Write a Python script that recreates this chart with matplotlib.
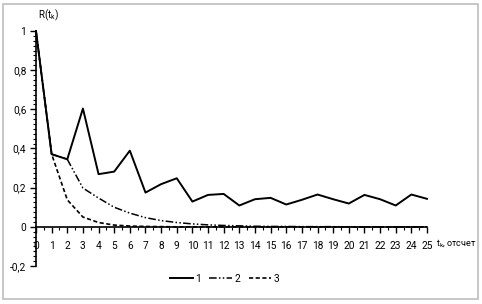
import matplotlib
matplotlib.use("Agg")
import matplotlib.pyplot as plt
from matplotlib.ticker import MultipleLocator, FuncFormatter
from matplotlib.patches import Rectangle

t = list(range(26))
r1 = [1.0, 0.371, 0.345, 0.604, 0.269, 0.282, 0.389, 0.175, 0.218, 0.248,
      0.129, 0.163, 0.168, 0.109, 0.141, 0.148, 0.114, 0.138, 0.165, 0.141,
      0.119, 0.163, 0.141, 0.109, 0.165, 0.143]
r2 = [1.0, 0.371, 0.345, 0.198, 0.147, 0.100, 0.070, 0.047, 0.032, 0.022,
      0.015, 0.010, 0.007, 0.005, 0.003, 0.002, 0.002, 0.001, 0.001, 0.001,
      0.0, 0.0, 0.0, 0.0, 0.0, 0.0]
r3 = [1.0, 0.371, 0.138, 0.050, 0.022, 0.009, 0.004, 0.002, 0.001, 0.0,
      0.0, 0.0, 0.0, 0.0, 0.0, 0.0, 0.0, 0.0, 0.0, 0.0,
      0.0, 0.0, 0.0, 0.0, 0.0, 0.0]
labels = ["1", "2", "3"]

plt.rcParams['font.family'] = ['Roboto', 'DejaVu Sans']
plt.rcParams['mathtext.fontset'] = 'custom'
plt.rcParams['mathtext.rm'] = 'Roboto'
plt.rcParams['mathtext.it'] = 'Roboto'

fig = plt.figure(figsize=(4.82, 3.04), dpi=100)
fig.patch.set_facecolor('white')
fig.patches.append(Rectangle((3/482, 1-299/304), 475/482, 295/304, transform=fig.transFigure,
                             fill=False, edgecolor='#bdbdbd', linewidth=1.2))

ax = fig.add_axes([36/482, 1-266/304, (427-36)/482, (266-31)/304])
ax.plot(t, r1, color='black', lw=1.4, label=labels[0], clip_on=False)
ax.plot(t, r2, color='black', lw=1.1, linestyle=(0, (5, 1.5, 1, 1.5, 1, 1.5)), label=labels[1], clip_on=False)
ax.plot(t, r3, color='black', lw=1.2, linestyle=(0, (2.5, 1.5)), label=labels[2], clip_on=False)

ax.set_xlim(0, 25)
ax.set_ylim(-0.2, 1.0)
for s in ['top', 'right']:
    ax.spines[s].set_visible(False)
ax.spines['bottom'].set_position(('data', 0))
ax.spines['bottom'].set_linewidth(1.2)
ax.spines['left'].set_linewidth(1.2)

ax.xaxis.set_major_locator(MultipleLocator(1))
ax.xaxis.set_minor_locator(MultipleLocator(0.5))
ax.yaxis.set_major_locator(MultipleLocator(0.2))
ax.yaxis.set_minor_locator(MultipleLocator(0.025))
ax.yaxis.set_major_formatter(FuncFormatter(lambda v, p: ('%g' % round(v, 2)).replace('.', ',')))
ax.tick_params(axis='x', which='major', direction='out', length=4, width=1, pad=6, labelsize=7.3)
ax.tick_params(axis='x', which='minor', direction='out', length=2, width=0.8)
ax.tick_params(axis='y', which='major', direction='out', length=4, width=1, pad=3, labelsize=7.3)
ax.tick_params(axis='y', which='minor', direction='out', length=2.5, width=0.8)

fig.text(38/482, 1-15/304, r'R(t$_k$)', fontsize=7, ha='left', va='center')
fig.text(436/482, 1-243/304, r't$_k$, отсчет', fontsize=6.5, ha='left', va='center')

leg = fig.legend(loc='center', bbox_to_anchor=(225/482, 1-279/304), ncol=3, frameon=False,
                 fontsize=7.3, handlelength=2.2, handletextpad=0.3, columnspacing=0.8)

fig.savefig('out.png', dpi=100)
